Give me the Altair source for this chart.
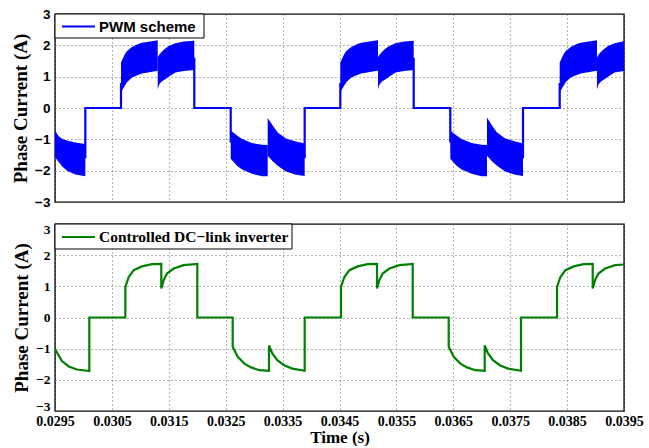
import altair as alt
import pandas as pd

# ---------------- axis ticks ----------------
x_ticks = [0.0295, 0.0305, 0.0315, 0.0325, 0.0335, 0.0345,
           0.0355, 0.0365, 0.0375, 0.0385, 0.0395]
y_ticks = [-3, -2, -1, 0, 1, 2, 3]
series_names = ["PWM scheme", "Controlled DC\u2212link inverter"]

# ---------------- PWM scheme: envelope of the chopped current (per conduction segment) ----------------
pwm_t = [
    [0.0295, 0.029565, 0.029623, 0.029711, 0.029857, 0.030033],
    [0.03066, 0.03073, 0.030765, 0.030853, 0.030959, 0.031029, 0.031258, 0.031305],
    [0.031305, 0.031331, 0.031381, 0.031439, 0.031498, 0.031614, 0.031762, 0.031948],
    [0.032588, 0.032699, 0.032787, 0.032962, 0.033138, 0.033238],
    [0.033238, 0.033326, 0.033414, 0.03356, 0.033735, 0.033888],
    [0.034514, 0.034584, 0.034619, 0.034707, 0.034813, 0.034883, 0.035112, 0.035177],
    [0.035177, 0.035203, 0.035253, 0.035311, 0.03537, 0.035486, 0.035634, 0.035804],
    [0.036447, 0.036558, 0.036646, 0.036821, 0.036997, 0.037092],
    [0.037092, 0.03718, 0.037268, 0.037414, 0.037589, 0.037725],
    [0.03837, 0.03844, 0.038475, 0.038563, 0.038669, 0.038739, 0.038968, 0.039025],
    [0.039025, 0.039051, 0.039101, 0.039159, 0.039218, 0.039334, 0.0395],
]
pwm_hi = [
    [-0.72, -0.90, -0.98, -1.04, -1.10, -1.15],
    [1.45, 1.72, 1.82, 1.95, 2.04, 2.08, 2.15, 2.16],
    [1.62, 1.70, 1.80, 1.90, 1.98, 2.07, 2.12, 2.15],
    [-0.72, -0.88, -0.99, -1.12, -1.17, -1.18],
    [-0.32, -0.56, -0.78, -0.97, -1.07, -1.13],
    [1.45, 1.72, 1.82, 1.95, 2.04, 2.08, 2.15, 2.16],
    [1.62, 1.70, 1.80, 1.90, 1.98, 2.07, 2.12, 2.15],
    [-0.72, -0.88, -0.99, -1.12, -1.17, -1.18],
    [-0.30, -0.56, -0.78, -0.97, -1.07, -1.13],
    [1.45, 1.72, 1.82, 1.95, 2.04, 2.08, 2.15, 2.16],
    [1.60, 1.70, 1.80, 1.90, 1.98, 2.07, 2.13],
]
pwm_lo = [
    [-1.57, -1.72, -1.86, -2.00, -2.12, -2.18],
    [0.50, 0.72, 0.82, 0.97, 1.05, 1.10, 1.17, 1.19],
    [0.60, 0.75, 0.85, 0.92, 1.00, 1.13, 1.18, 1.21],
    [-1.62, -1.84, -1.96, -2.10, -2.18, -2.18],
    [-1.52, -1.70, -1.84, -2.03, -2.13, -2.17],
    [0.50, 0.72, 0.82, 0.97, 1.05, 1.10, 1.17, 1.19],
    [0.60, 0.75, 0.85, 0.92, 1.00, 1.13, 1.18, 1.21],
    [-1.62, -1.84, -1.96, -2.10, -2.18, -2.18],
    [-1.52, -1.70, -1.84, -2.03, -2.13, -2.17],
    [0.50, 0.72, 0.82, 0.97, 1.05, 1.10, 1.17, 1.19],
    [0.60, 0.75, 0.85, 0.92, 1.00, 1.13, 1.18],
]

# PWM scheme: off-intervals (zero current) with their switching edges
pwm_zero_t = [
    [0.030033, 0.030033, 0.03066, 0.03066],
    [0.031948, 0.031948, 0.032588, 0.032588],
    [0.033888, 0.033888, 0.034514, 0.034514],
    [0.035804, 0.035804, 0.036447, 0.036447],
    [0.037725, 0.037725, 0.03837, 0.03837],
]
pwm_zero_i = [
    [-1.6, 0.0, 0.0, 0.8],
    [1.6, 0.0, 0.0, -1.1],
    [-1.6, 0.0, 0.0, 0.8],
    [1.6, 0.0, 0.0, -1.1],
    [-1.6, 0.0, 0.0, 0.8],
]

# ---------------- Controlled DC-link inverter ----------------
dc_t = [
    0.0295, 0.029558, 0.029623, 0.029741, 0.029887, 0.030103, 0.030103,
    0.030736, 0.030736, 0.030796, 0.030884, 0.031029, 0.031205, 0.031368,
    0.031368, 0.03141, 0.031468, 0.031586, 0.031762, 0.032001, 0.032001,
    0.032623, 0.032623, 0.032711, 0.032829, 0.032945, 0.033092, 0.033261,
    0.033261, 0.033319, 0.033407, 0.033525, 0.033671, 0.033888, 0.033888,
    0.034526, 0.034526, 0.034586, 0.034674, 0.034819, 0.034995, 0.035159,
    0.035159, 0.035201, 0.035259, 0.035377, 0.035553, 0.035787, 0.035787,
    0.036419, 0.036419, 0.036507, 0.036625, 0.036741, 0.036888, 0.037052,
    0.037052, 0.03711, 0.037198, 0.037316, 0.037462, 0.03769, 0.03769,
    0.038323, 0.038323, 0.038383, 0.038471, 0.038616, 0.038792, 0.03895,
    0.03895, 0.038992, 0.03905, 0.039168, 0.039344, 0.0395,
]
dc_i = [
    -1.00, -1.20, -1.40, -1.57, -1.67, -1.72, 0.0,
    0.0, 0.98, 1.30, 1.52, 1.64, 1.71, 1.72,
    0.93, 1.20, 1.41, 1.57, 1.68, 1.72, 0.0,
    0.0, -0.94, -1.26, -1.48, -1.60, -1.69, -1.71,
    -0.90, -1.15, -1.37, -1.53, -1.64, -1.71, 0.0,
    0.0, 0.98, 1.30, 1.52, 1.64, 1.71, 1.72,
    0.93, 1.20, 1.41, 1.57, 1.68, 1.72, 0.0,
    0.0, -0.94, -1.26, -1.48, -1.60, -1.69, -1.71,
    -0.90, -1.15, -1.37, -1.53, -1.64, -1.71, 0.0,
    0.0, 0.98, 1.30, 1.52, 1.64, 1.71, 1.72,
    0.93, 1.20, 1.41, 1.57, 1.68, 1.70,
]

# ---------------- tables ----------------
band_rows = []
for s, (ts, los, his) in enumerate(zip(pwm_t, pwm_lo, pwm_hi)):
    for t, lo, hi in zip(ts, los, his):
        band_rows.append({"t": t, "lo": lo, "hi": hi, "seg": s})
band_df = pd.DataFrame(band_rows)

zero_rows = []
for g, (ts, vs) in enumerate(zip(pwm_zero_t, pwm_zero_i)):
    for k, (t, v) in enumerate(zip(ts, vs)):
        zero_rows.append({"t": t, "i": v, "g": g, "k": k})
zero_df = pd.DataFrame(zero_rows)

dc_df = pd.DataFrame({"t": dc_t, "i": dc_i, "k": list(range(len(dc_t)))})

# ---------------- styling helpers ----------------
BLUE = "#0000ff"
GREEN = "#008000"
W, H = 569, 188
xs = alt.Scale(domain=[0.0295, 0.0395], nice=False, zero=False)
ys = alt.Scale(domain=[-3, 3], nice=False, zero=False)
grid_kw = dict(grid=True, gridDash=[1, 3], gridColor="#666666", gridWidth=1,
               domain=False, ticks=False, labelOverlap=False)


def y_axis(font, flush):
    return alt.Axis(values=y_ticks, format="d", title="Phase Current (A)",
                    labelFont=font, labelFontSize=13.5, labelFontWeight="bold",
                    labelColor="black", labelPadding=5,
                    labelFlush=flush, labelFlushOffset=2,
                    titleFont="Liberation Serif", titleFontSize=19,
                    titleFontWeight="bold", titleColor="black", titlePadding=4,
                    **grid_kw)


def legend_box(name, color, font, size, box_w, box_h):
    """Boxed legend in the top-left corner of a panel (MATLAB style)."""
    df = pd.DataFrame({"series": [name]})
    base = alt.Chart(df)
    box = base.mark_rect(fill="white", stroke="black", strokeWidth=1).encode(
        x=alt.value(0), x2=alt.value(box_w), y=alt.value(0), y2=alt.value(box_h))
    sample = base.mark_rule(color=color, strokeWidth=2.2).encode(
        x=alt.value(7), x2=alt.value(40), y=alt.value(box_h / 2 + 0.5))
    label = base.mark_text(align="left", baseline="middle", font=font,
                           fontSize=size, fontWeight="bold", color="black").encode(
        x=alt.value(44), y=alt.value(box_h / 2 + 0.5), text="series:N")
    return [box, sample, label]


top_x_axis = alt.Axis(values=x_ticks, labels=False, title=None, labelFlush=False, **grid_kw)
bot_x_axis = alt.Axis(values=x_ticks, format=".4f", title="Time (s)",
                      labelFont="Liberation Serif", labelFontSize=14,
                      labelFontWeight="bold", labelColor="black", labelPadding=3,
                      labelFlush=False,
                      titleFont="Liberation Serif", titleFontSize=17,
                      titleFontWeight="bold", titleColor="black", titlePadding=1,
                      **grid_kw)
top_y_axis = y_axis("Liberation Sans", False)

# ---------------- top panel ----------------
band = alt.Chart(band_df).mark_area(color=BLUE, fillOpacity=1, interpolate="linear").encode(
    x=alt.X("t:Q", scale=xs, axis=top_x_axis),
    y=alt.Y("lo:Q", scale=ys, axis=top_y_axis, stack=None),
    y2="hi:Q",
    detail="seg:N",
)
zero_line = alt.Chart(zero_df).mark_line(strokeWidth=2.2, color=BLUE).encode(
    x=alt.X("t:Q", scale=xs, axis=top_x_axis),
    y=alt.Y("i:Q", scale=ys, axis=top_y_axis),
    detail="g:N",
    order="k:Q",
)
top = alt.layer(
    band, zero_line,
    *legend_box(series_names[0], BLUE, "Liberation Sans", 15, 149, 24),
).properties(width=W, height=H)

# ---------------- bottom panel ----------------
dc_line = alt.Chart(dc_df).mark_line(strokeWidth=2.2, color=GREEN).encode(
    x=alt.X("t:Q", scale=xs, axis=bot_x_axis),
    y=alt.Y("i:Q", scale=ys, axis=y_axis("Liberation Serif", True)),
    order="k:Q",
)
bottom = alt.layer(
    dc_line,
    *legend_box(series_names[1], GREEN, "Liberation Serif", 15.5, 237, 25),
).properties(width=W, height=H - 1)

chart = alt.vconcat(top, bottom, spacing=11).properties(
    padding={"left": 10, "top": 6, "right": 5, "bottom": 0},
    background="white",
).configure_view(stroke="black", strokeWidth=1.4)

chart.save("out.html", embed_options={"renderer": "svg", "actions": False})
